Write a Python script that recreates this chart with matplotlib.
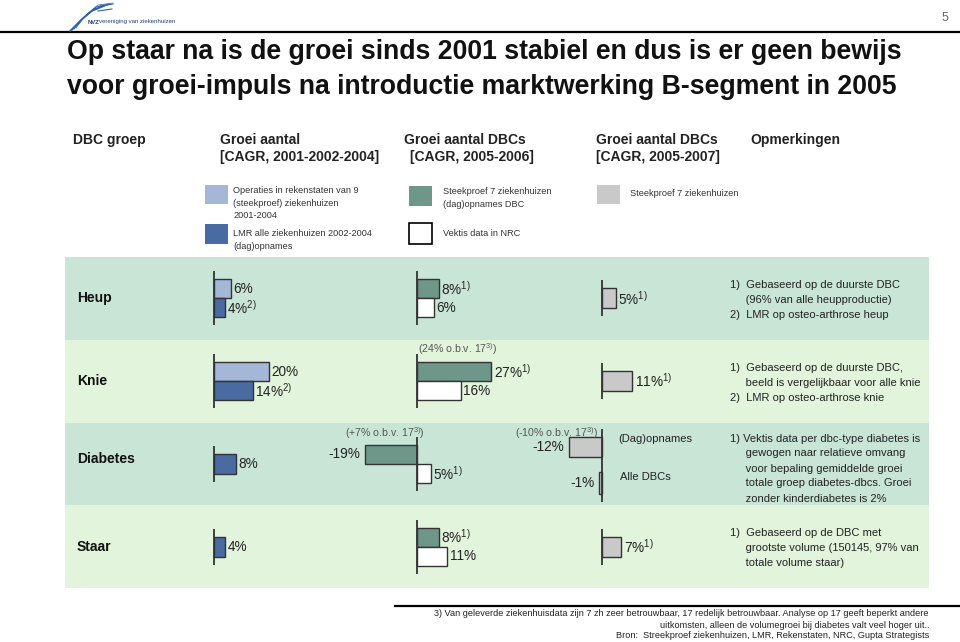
import matplotlib
matplotlib.use("Agg")
import matplotlib.pyplot as plt
from matplotlib.patches import Rectangle

plt.rcParams['font.family'] = ['Liberation Sans', 'DejaVu Sans']
plt.rcParams['mathtext.fontset'] = 'custom'
plt.rcParams['mathtext.rm'] = 'Liberation Sans'
plt.rcParams['mathtext.it'] = 'Liberation Sans:italic'
plt.rcParams['mathtext.bf'] = 'Liberation Sans:bold'

rows = ["Heup", "Knie", "Diabetes", "Staar"]

# Groei aantal [CAGR, 2001-2002-2004]
operaties = [6, 20, None, None]
operaties_notes = ["", "", "", ""]
lmr = [4, 14, 8, 4]
lmr_notes = ["2)", "2)", "", ""]

# Groei aantal DBCs [CAGR, 2005-2006]
steekproef_dbc = [8, 27, -19, 8]
steekproef_dbc_notes = ["1)", "1)", "", "1)"]
vektis = [6, 16, 5, 11]
vektis_notes = ["", "", "1)", ""]

# Groei aantal DBCs [CAGR, 2005-2007]
steekproef7 = [5, 11, -12, 7]
steekproef7_notes = ["1)", "1)", "", "1)"]
steekproef7_alle = [None, None, -1, None]

# (kolom, rij, tekst) -> analyse op 17 ziekenhuizen
obv = [(1, 1, "(24% o.b.v. 17"), (1, 2, "(+7% o.b.v. 17"), (2, 2, "(-10% o.b.v. 17")]

opmerkingen = [
    ["1)  Gebaseerd op de duurste DBC", "     (96% van alle heupproductie)", "2)  LMR op osteo-arthrose heup"],
    ["1)  Gebaseerd op de duurste DBC,", "     beeld is vergelijkbaar voor alle knie", "2)  LMR op osteo-arthrose knie"],
    ["1) Vektis data per dbc-type diabetes is", "     gewogen naar relatieve omvang", "     voor bepaling gemiddelde groei",
     "     totale groep diabetes-dbcs. Groei", "     zonder kinderdiabetes is 2%"],
    ["1)  Gebaseerd op de DBC met", "     grootste volume (150145, 97% van", "     totale volume staar)"],
]

c_ops = '#a5b7d7'
c_lmr = '#4a6aa2'
c_dbc = '#6e978a'
c_vek = '#ffffff'
c_st7 = '#c9c9c9'
edge = '#333333'
band_colors = ['#c9e5d6', '#e2f4db']

W, H = 960, 642
fig = plt.figure(figsize=(9.6, 6.42), dpi=100)
bg = fig.add_axes([0, 0, 1, 1])
bg.set_xlim(0, W)
bg.set_ylim(H, 0)
bg.axis('off')

# kop met logo
bg.plot([0, W], [32, 32], color='black', lw=1.6)
for k in range(4):
    bg.plot([70 + k * 2, 80 + k * 2, 92 + k * 2, 104 + k * 3],
            [31 - k, 21 - k * 2, 11 - k * 2, 6 - k],
            color='#2b5fae', lw=1.1 - k * 0.2)
bg.plot([98, 112], [11, 9], color='#2b5fae', lw=0.8)
bg.plot([100, 113], [6, 4], color='#2b5fae', lw=0.8)
bg.text(88, 22, "NVZ", fontsize=4.3, fontweight='bold', color='#1d3f80', va='center')
bg.text(99, 22, "vereniging van ziekenhuizen", fontsize=4.3, color='#1d3f80', va='center')
bg.text(945, 18, "5", fontsize=9, color='#666666', ha='center', va='center')

bg.text(67, 52, "Op staar na is de groei sinds 2001 stabiel en dus is er geen bewijs",
        fontsize=19.2, fontweight='bold', va='center', color='#111111')
bg.text(67, 87, "voor groei-impuls na introductie marktwerking B-segment in 2005",
        fontsize=19.2, fontweight='bold', va='center', color='#111111')

hdr = dict(fontsize=10, fontweight='bold', va='center', color='#222222')
bg.text(73, 140, "DBC groep", **hdr)
bg.text(220, 140, "Groei aantal", **hdr)
bg.text(220, 157, "[CAGR, 2001-2002-2004]", **hdr)
bg.text(404, 140, "Groei aantal DBCs", **hdr)
bg.text(410, 157, "[CAGR, 2005-2006]", **hdr)
bg.text(596, 140, "Groei aantal DBCs", **hdr)
bg.text(596, 157, "[CAGR, 2005-2007]", **hdr)
bg.text(750, 140, "Opmerkingen", **hdr)

# legenda
leg = dict(fontsize=6.6, va='center', color='#333333', linespacing=1.55)
bg.add_patch(Rectangle((205, 185), 23, 19, facecolor=c_ops, edgecolor='none'))
bg.add_patch(Rectangle((205, 224), 23, 20, facecolor=c_lmr, edgecolor='none'))
bg.add_patch(Rectangle((409, 186), 23, 20, facecolor=c_dbc, edgecolor='none'))
bg.add_patch(Rectangle((409, 223), 23, 21, facecolor='white', edgecolor='black', lw=1.2))
bg.add_patch(Rectangle((597, 185), 23, 19, facecolor=c_st7, edgecolor='none'))
bg.text(233, 203, "Operaties in rekenstaten van 9\n(steekproef) ziekenhuizen\n2001-2004", **leg)
bg.text(233, 240, "LMR alle ziekenhuizen 2002-2004\n(dag)opnames", **leg)
bg.text(443, 198, "Steekproef 7 ziekenhuizen\n(dag)opnames DBC", **leg)
bg.text(443, 234, "Vektis data in NRC", **leg)
bg.text(630, 193, "Steekproef 7 ziekenhuizen", **leg)

# banden
band_top = 257
row_h = 82.75
for i, name in enumerate(rows):
    y0 = band_top + i * row_h
    bg.add_patch(Rectangle((65, y0), 864, row_h, facecolor=band_colors[i % 2], edgecolor='none'))
    bg.text(77, y0 + row_h / 2 + (-5 if name == "Diabetes" else 0), name,
            fontsize=10, fontweight='bold', va='center', color='#111111')
    for j, line in enumerate(opmerkingen[i]):
        top = y0 + (28 if len(opmerkingen[i]) == 3 else 16)
        bg.text(730, top + j * 15, line, fontsize=8, va='center', color='#222222')

bg.text(618, 439, "(Dag)opnames", fontsize=8, va='center', color='#222222')
bg.text(620, 477, "Alle DBCs", fontsize=8, va='center', color='#222222')

# voetnoten
bg.plot([395, W], [606, 606], color='black', lw=1.6)
foot = dict(fontsize=6.6, ha='right', va='center', color='#222222')
bg.text(929, 614, "3) Van geleverde ziekenhuisdata zijn 7 zh zeer betrouwbaar, 17 redelijk betrouwbaar. "
        "Analyse op 17 geeft beperkt andere", **foot)
bg.text(929, 625, "uitkomsten, alleen de volumegroei bij diabetes valt veel hoger uit..", **foot)
bg.text(929, 636, "Bron:  Streekproef ziekenhuizen, LMR, Rekenstaten, NRC, Gupta Strategists", **foot)

# staafkolommen
SCALE = 2.75  # px per procentpunt


def col_axes(left, width, zero):
    ax = fig.add_axes([left / W, 1 - (band_top + 4 * row_h) / H, width / W, 4 * row_h / H])
    ax.set_xlim((left - zero) / SCALE, (left + width - zero) / SCALE)
    ax.set_ylim(4, 0)
    ax.axis('off')
    return ax


def fmt(v, note):
    s = f"{v}%"
    if note:
        s += r"$^{\mathrm{" + note + "}}$"
    return s


def bar(ax, y, v, color, note, h):
    ax.barh(y, v, height=h, color=color, edgecolor=edge, linewidth=1.0)
    off = 0.9 if v >= 0 else -1.6
    ax.text(v + off, y, fmt(v, note), fontsize=9.8, va='center',
            ha='left' if v >= 0 else 'right', color='#222222')


def column(ax, top, top_c, top_n, bot, bot_c, bot_n, shift=None):
    h = 19 / row_h
    ext = 8 / row_h
    for i in range(len(rows)):
        yc = i + 0.5
        vals = [(v, c, n) for v, c, n in ((top[i], top_c, top_n[i]), (bot[i], bot_c, bot_n[i]))
                if v is not None]
        if shift is not None and shift[i] is not None:
            ys, hs = [yc - 0.2, yc + 0.235], [20 / row_h, 22 / row_h]
        elif len(vals) == 2:
            ys, hs = [yc - h / 2, yc + h / 2], [h, h]
        else:
            ys, hs = [yc], [20 / row_h]
        for (v, c, n), y, hh in zip(vals, ys, hs):
            bar(ax, y, v, c, n, hh)
        ax.vlines(0, ys[0] - hs[0] / 2 - ext, ys[-1] + hs[-1] / 2 + ext, color=edge, lw=1.3)


ax1 = col_axes(190, 140, 214)
column(ax1, operaties, c_ops, operaties_notes, lmr, c_lmr, lmr_notes)

ax2 = col_axes(340, 170, 417)
column(ax2, steekproef_dbc, c_dbc, steekproef_dbc_notes, vektis, c_vek, vektis_notes)

ax3 = col_axes(540, 130, 602)
column(ax3, steekproef7, c_st7, steekproef7_notes, steekproef7_alle, c_st7,
       ["", "", "", ""], shift=steekproef7_alle)

axes = [ax1, ax2, ax3]
for col, i, txt in obv:
    ax = axes[col]
    s = txt + r"$^{\mathrm{3)}}$)"
    y = i + 0.5 - 0.37
    if i == 1:
        ax.text(0.3, y - 0.02, s, fontsize=7.6, color='#555555', ha='left', va='center')
    elif col == 1:
        ax.text(3, y, s, fontsize=7.6, color='#555555', ha='right', va='center')
    else:
        ax.text(-1.3, y, s, fontsize=7.6, color='#555555', ha='right', va='center')

fig.savefig("out.png", dpi=100)
